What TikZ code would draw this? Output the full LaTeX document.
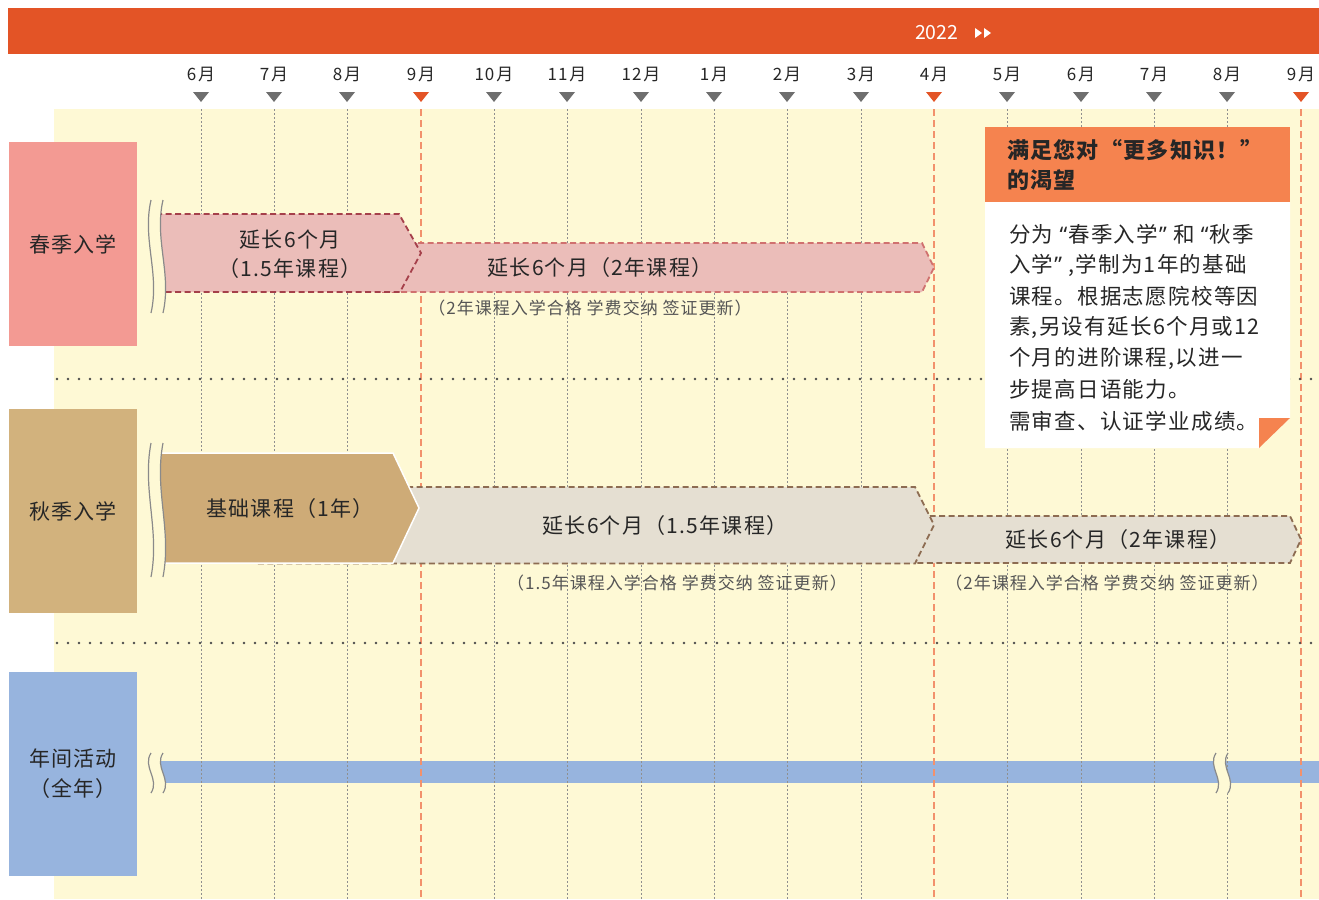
\documentclass[tikz,border=0pt]{standalone}
\usepackage{fontspec}
\setmainfont{Noto Sans CJK SC}[LetterSpace=6]
\newfontfamily\plainfont{Noto Sans CJK SC}
\newfontfamily\latinq{Noto Sans}
\newcommand\oquote{\makebox[15pt][r]{\latinq “\hspace{1pt}}}
\newcommand\cquote{\makebox[15pt][l]{\hspace{1pt}\latinq ”}}
\definecolor{topor}{HTML}{E35426}
\definecolor{bgy}{HTML}{FEF9D5}
\definecolor{trigray}{HTML}{6E6E6E}
\definecolor{vgray}{HTML}{8F8F8F}
\definecolor{vor}{HTML}{F2916C}
\definecolor{springc}{HTML}{F39A93}
\definecolor{autumnc}{HTML}{D2B27D}
\definecolor{annualc}{HTML}{97B4DE}
\definecolor{sfill}{HTML}{EBBDB9}
\definecolor{sline1}{HTML}{A5404A}
\definecolor{sline2}{HTML}{D0716F}
\definecolor{basefill}{HTML}{CEAB77}
\definecolor{afill}{HTML}{E5DFD2}
\definecolor{aline}{HTML}{8D6C52}
\definecolor{infoor}{HTML}{F5834F}
\definecolor{txt}{HTML}{262626}
\definecolor{subtxt}{HTML}{555555}
\definecolor{wavc}{HTML}{8A8A8A}
\newcommand\wavypair[3]{%
  \pgfmathsetmacro\wa{#2+0.35*(#3-#2)}%
  \pgfmathsetmacro\wb{#2+0.65*(#3-#2)}%
  \fill[bgy] (#1-12,#2) .. controls (#1-21,\wa) and (#1-3,\wb) .. (#1-12,#3) -- (#1,#3) .. controls (#1+9,\wb) and (#1-9,\wa) .. (#1,#2) -- cycle;
  \draw[wavline] (#1-12,#2) .. controls (#1-21,\wa) and (#1-3,\wb) .. (#1-12,#3);
  \draw[wavline] (#1,#2) .. controls (#1-9,\wa) and (#1+9,\wb) .. (#1,#3);
}
\tikzset{
  wavline/.style={draw=wavc,line width=1.2pt},
  vdot/.style={draw=vgray,line width=0.9pt,dash pattern=on 2pt off 2pt},
  vdash/.style={draw=vor,line width=1.6pt,dash pattern=on 7pt off 4pt},
  sepdots/.style={draw=black!70,line width=2.8pt,line cap=round,dash pattern=on 0pt off 11pt},
  monthlbl/.style={font=\fontsize{17}{20}\selectfont,text=txt},
  sidebox/.style={minimum width=128pt,minimum height=204pt,anchor=north west,align=center,font=\fontsize{21}{30}\selectfont,text=txt},
  arrowtxt/.style={font=\fontsize{21}{29}\selectfont,text=txt,align=center},
  subtext/.style={font=\fontsize{17}{20}\selectfont,text=subtxt},
  bodyline/.style={anchor=west,font=\fontsize{21.5}{26}\selectfont,text=txt},
  headline/.style={anchor=west,font=\fontsize{22}{26}\selectfont\bfseries,text=txt},
}
\begin{document}
\begin{tikzpicture}[x=1pt,y=-1pt,every node/.style={inner sep=0pt,outer sep=0pt}]
\useasboundingbox (0,0) rectangle (1319,899);
\fill[white] (0,0) rectangle (1319,899);
% top bar
\fill[topor] (8,8) rectangle (1319,54);
\node[anchor=west,text=white,font=\plainfont\fontsize{19.5}{22}\selectfont] (year) at (915,33) {2022};
\fill[white] (975,28) -- (982,33) -- (975,38) -- cycle;
\fill[white] (984,28) -- (991,33) -- (984,38) -- cycle;
% background
\fill[bgy] (54,109) rectangle (1319,899);
% months
\foreach \x/\m in {201/6,274/7,347/8,494/10,567/11,641/12,714/1,787/2,861/3,1007/5,1081/6,1154/7,1227/8}{
  \node[monthlbl] (m\x) at (\x,74) {\m\hspace{2pt}月};
  \fill[trigray] (\x-8,92) -- (\x+8,92) -- (\x,102) -- cycle;
}
\foreach \x/\m in {421/9,934/4,1301/9}{
  \node[monthlbl] (m\x) at (\x,74) {\m\hspace{2pt}月};
  \fill[topor] (\x-8,92) -- (\x+8,92) -- (\x,102) -- cycle;
}
% annual bar (below grid lines)
\fill[annualc] (156,761) rectangle (1319,783);
% grid lines
\foreach \x in {201,274,347,494,567,641,714,787,861,1007,1081,1154,1227}{
  \draw[vdot] (\x,109) -- (\x,899);
}
\foreach \x in {421,934,1301}{
  \draw[vdash] (\x,109) -- (\x,899);
}
% separators
\draw[sepdots] (57,379) -- (1319,379);
\draw[sepdots] (57,643) -- (1319,643);
% side labels
\node[sidebox,fill=springc] (spring) at (9,142) {春季入学};
\node[sidebox,fill=autumnc] (autumn) at (9,409) {秋季入学};
\node[sidebox,fill=annualc] (annual) at (9,672) {年间活动\\（全年）};
% spring arrows
\filldraw[fill=sfill,draw=sline2,line width=1.8pt,dash pattern=on 6pt off 3.5pt]
  (380,243) -- (922,243) -- (934,267.5) -- (922,292) -- (380,292);
\filldraw[fill=sfill,draw=sline1,line width=1.8pt,dash pattern=on 6pt off 3.5pt]
  (156,214) -- (399,214) -- (421,253) -- (400,292) -- (156,292);
\wavypair{163}{200}{313}
\node[arrowtxt] (s1) at (290,254) {延长6个月\\（1.5年课程）};
\node[arrowtxt] (s2) at (600,268) {延长6个月（2年课程）};
\node[subtext] (s2sub) at (590,308) {（2年课程入学合格 学费交纳 签证更新）};
% autumn arrows
\filldraw[fill=afill,draw=aline,line width=1.8pt,dash pattern=on 6pt off 3.5pt]
  (920,516) -- (1290,516) -- (1301,539.5) -- (1290,563) -- (915,563);
\filldraw[fill=afill,draw=aline,line width=1.8pt,dash pattern=on 6pt off 3.5pt]
  (255,487) -- (915,487) -- (934,525) -- (915,563.5) -- (255,563.5);
\filldraw[fill=basefill,draw=white,line width=1.5pt]
  (156,453) -- (393,453) -- (419,508) -- (393,563) -- (156,563);
\wavypair{163}{443}{577}
\node[arrowtxt] (a1) at (290,509) {基础课程（1年）};
\node[arrowtxt] (a2) at (665,526) {延长6个月（1.5年课程）};
\node[arrowtxt] (a3) at (1118,540) {延长6个月（2年课程）};
\node[subtext] (a2sub) at (677,583) {（1.5年课程入学合格 学费交纳 签证更新）};
\node[subtext] (a3sub) at (1107,583) {（2年课程入学合格 学费交纳 签证更新）};
% annual wavy marks
\wavypair{163}{753}{793}
\wavypair{1228}{753}{793}
% info box
\fill[infoor] (985,127) rectangle (1290,202);
\fill[white] (985,202) -- (1290,202) -- (1290,418) -- (1259,448) -- (985,448) -- cycle;
\fill[infoor] (1259,418) -- (1290,418) -- (1259,448) -- cycle;
\node[headline] (h1) at (1007,150) {满足您对“更多知识！”};
\node[headline] (h2) at (1007,180) {的渴望};
\node[bodyline] (b1) at (1009,234) {分为\oquote 春季入学\cquote 和\oquote 秋季};
\node[bodyline] (b2) at (1009,265) {入学\cquote,学制为1年的基础};
\node[bodyline] (b3) at (1009,296) {课程。根据志愿院校等因};
\node[bodyline] (b4) at (1009,327) {素,另设有延长6个月或12};
\node[bodyline] (b5) at (1009,358) {个月的进阶课程,以进一};
\node[bodyline] (b6) at (1009,389) {步提高日语能力。};
\node[bodyline] (b7) at (1009,421) {需审查、认证学业成绩。};
\end{tikzpicture}
\end{document}
